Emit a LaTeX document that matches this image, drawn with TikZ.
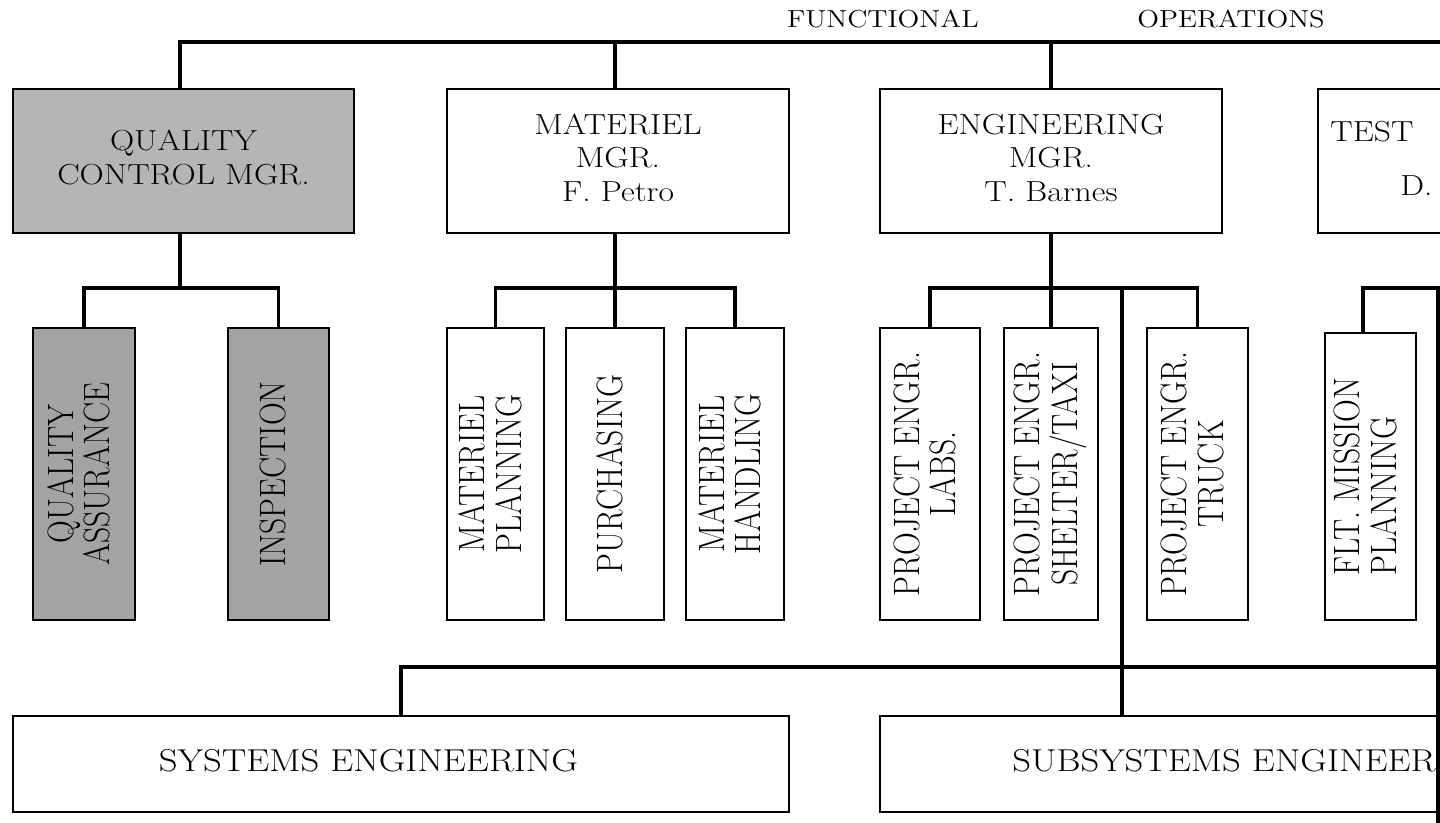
\documentclass[tikz,border=0pt]{standalone}
\usepackage{tikz}
\usepackage{graphicx}
\usetikzlibrary{calc}

\definecolor{qcgray}{gray}{0.71}
\definecolor{qagray}{gray}{0.64}

% text stretched sideways, as in the scan
\newcommand{\boxtext}[1]{\scalebox{1.16}[1]{\begin{tabular}{@{}c@{}}#1\end{tabular}}}
\newcommand{\uptext}[2][c]{\rotatebox{90}{\scalebox{1}[1.16]{\begin{tabular}{@{}#1@{}}#2\end{tabular}}}}

\begin{document}
\begin{tikzpicture}[
		x=0.02cm, y=-0.02cm,
		mgr/.style={draw,line width=1.5pt,minimum width=6.84cm,minimum height=2.88cm,inner sep=0pt,font=\fontsize{16.5}{19}\selectfont},
		unit/.style={draw,line width=1.5pt,minimum height=5.84cm,inner sep=0pt,font=\fontsize{18}{17.5}\selectfont},
		dept/.style={draw,line width=1.5pt,minimum width=15.52cm,minimum height=1.92cm,inner sep=0pt,font=\fontsize{18}{20}\selectfont},
		head/.style={inner sep=0pt,anchor=base,font=\fontsize{14}{16}\selectfont},
		part/.style={inner sep=0pt,anchor=base west,font=\fontsize{16.5}{19}\selectfont},
		link/.style={line width=2.2pt}
		]
		\useasboundingbox (0,0) rectangle (1440,822);
		\clip (0,0) rectangle (1440,822);
		
		\node[head](functional) at (883,28){\boxtext{FUNCTIONAL}};
		\node[head](operations) at (1231,28){\boxtext{OPERATIONS}};
		
		\node[mgr,fill=qcgray,minimum width=6.82cm](qc) at (183.5,161){\boxtext{QUALITY\\CONTROL MGR.}};
		\node[mgr](mat) at (618,161){\boxtext{MATERIEL\\MGR.\\F. Petro}};
		\node[mgr](eng) at (1051,161){\boxtext{ENGINEERING\\MGR.\\T. Barnes}};
		\node[mgr](test) at (1489,161){};
		\node[part](testname) at (1330,142){\boxtext{TEST}};
		\node[part](testmgr) at (1400,196){\boxtext{D.}};
		
		\node[unit,fill=qagray,minimum width=2.04cm](qa) at (84,474){\uptext{QUALITY\\ASSURANCE}};
		\node[unit,fill=qagray,minimum width=2.02cm](insp) at (278.5,474){\uptext{INSPECTION}};
		\node[unit,minimum width=1.94cm](mplan) at (495.5,474){\uptext{MATERIEL\\PLANNING}};
		\node[unit,minimum width=1.96cm](purch) at (615,474){\uptext{PURCHASING}};
		\node[unit,minimum width=1.96cm](mhand) at (735,474){\uptext{MATERIEL\\HANDLING}};
		\node[unit,minimum width=2.0cm](labs) at (930,474){\uptext{PROJECT ENGR.\\LABS.}};
		\node[unit,minimum width=1.88cm](shelter) at (1051,474){\uptext{PROJECT ENGR.\\SHELTER/TAXI}};
		\node[unit,minimum width=2.02cm](truck) at (1197.5,474){\uptext{PROJECT ENGR.\\TRUCK}};
		\node[unit,minimum width=1.82cm,minimum height=5.74cm](flt) at (1370.5,476.5){\uptext[l]{FLT. MISSION\\PLANNING}};
		
		\node[dept](sys) at (401,764){\hspace*{-1.3cm}\boxtext{SYSTEMS ENGINEERING}};
		\node[dept,minimum width=15.04cm](subsys) at (1256,764){\boxtext{SUBSYSTEMS ENGINEERING}};
		
		\coordinate (topend) at (1460,42);
		\coordinate (qcbus) at (180,288);
		\coordinate (matbus) at (615,288);
		\coordinate (engbus) at (1051,288);
		\coordinate (subdrop) at (1122,288);
		\coordinate (testbus) at (1460,288);
		\coordinate (botend) at (1460,667);
		
		% top line
		\draw[link] (qc.north -| qcbus) |- (topend);
		\draw[link] (mat.north -| matbus) -- (matbus |- topend);
		\draw[link] (eng.north) -- (eng.north |- topend);
		\draw[link] (test.north) -- (test.north |- topend);
		
		\draw[link] (qc.south -| qcbus) -- (qcbus);
		\draw[link] (qa.north) |- (qcbus) -| (insp.north);
		\draw[link] (mat.south -| matbus) -- (purch.north);
		\draw[link] (mplan.north) |- (matbus) -| (mhand.north);
		\draw[link] (eng.south) -- (shelter.north);
		\draw[link] (labs.north) |- (engbus) -| (truck.north);
		\draw[link] (subdrop) -- (subdrop |- subsys.north);
		\draw[link] (test.south) -- (test.south |- testbus);
		\draw[link] ([xshift=-0.15cm]flt.north) |- (testbus);
		
		\draw[link] (sys.north) |- (botend);
		
		\fill (1436,288) rectangle (1441,823);
		
\end{tikzpicture}
\end{document}
